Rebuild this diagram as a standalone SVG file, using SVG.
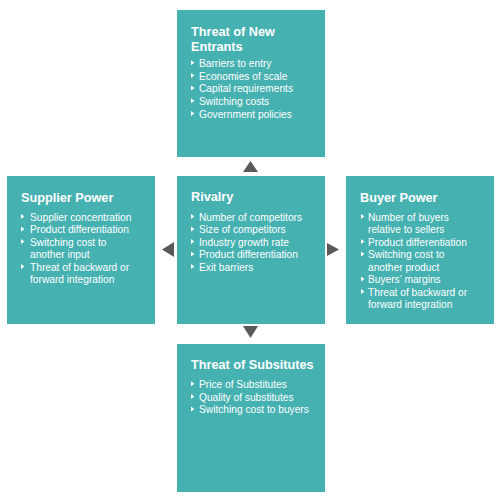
<svg xmlns="http://www.w3.org/2000/svg" width="503" height="497" viewBox="0 0 503 497">
<style>
.box{fill:#46B1B1;}
.title{font-family:"Liberation Sans",Arial,sans-serif;font-weight:bold;font-size:12.7px;fill:#FFFFFF;}
.item{font-family:"Liberation Sans",Arial,sans-serif;font-size:10.2px;fill:#FFFFFF;}
.bul{fill:#FFFFFF;}
.arrow{fill:#595959;}
</style>
<defs>
<path id="b" class="bul" d="M0,-6.8 L3.4,-4.3 L0,-1.8 Z"/>
</defs>
<rect width="503" height="497" fill="#FFFFFF"/>
<g id="connectors">
<polygon class="arrow" points="243,172 258,172 250.5,161"/>
<polygon class="arrow" points="243,326 258,326 250.5,338"/>
<polygon class="arrow" points="174,242 174,257 162,249.5"/>
<polygon class="arrow" points="327,243 327,256 339,249.5"/>
</g>
<g id="threat-new-entrants">
<rect class="box" x="177" y="10" width="148" height="147"/>
<text class="title" x="191" y="36">Threat of New</text>
<text class="title" x="191" y="50.5">Entrants</text>
<use href="#b" x="191" y="67"/><text class="item" x="199" y="67">Barriers to entry</text>
<use href="#b" x="191" y="79.7"/><text class="item" x="199" y="79.7">Economies of scale</text>
<use href="#b" x="191" y="92.4"/><text class="item" x="199" y="92.4">Capital requirements</text>
<use href="#b" x="191" y="105.1"/><text class="item" x="199" y="105.1">Switching costs</text>
<use href="#b" x="191" y="117.8"/><text class="item" x="199" y="117.8">Government policies</text>
</g>
<g id="supplier-power">
<rect class="box" x="7" y="176" width="148" height="148"/>
<text class="title" x="21" y="202">Supplier Power</text>
<use href="#b" x="21" y="220.7"/><text class="item" x="30" y="220.7">Supplier concentration</text>
<use href="#b" x="21" y="233.2"/><text class="item" x="30" y="233.2">Product differentiation</text>
<use href="#b" x="21" y="245.7"/><text class="item" x="30" y="245.7">Switching cost to</text>
<text class="item" x="30" y="258.2">another input</text>
<use href="#b" x="21" y="270.7"/><text class="item" x="30" y="270.7">Threat of backward or</text>
<text class="item" x="30" y="283.2">forward integration</text>
</g>
<g id="rivalry">
<rect class="box" x="177" y="176" width="148" height="148"/>
<text class="title" x="191" y="201">Rivalry</text>
<use href="#b" x="191" y="220.7"/><text class="item" x="199" y="220.7">Number of competitors</text>
<use href="#b" x="191" y="233.2"/><text class="item" x="199" y="233.2">Size of competitors</text>
<use href="#b" x="191" y="245.7"/><text class="item" x="199" y="245.7">Industry growth rate</text>
<use href="#b" x="191" y="258.2"/><text class="item" x="199" y="258.2">Product differentiation</text>
<use href="#b" x="191" y="270.7"/><text class="item" x="199" y="270.7">Exit barriers</text>
</g>
<g id="buyer-power">
<rect class="box" x="346" y="176" width="148" height="148"/>
<text class="title" x="360" y="202">Buyer Power</text>
<use href="#b" x="361" y="220.7"/><text class="item" x="368" y="220.7">Number of buyers</text>
<text class="item" x="368" y="233.2">relative to sellers</text>
<use href="#b" x="361" y="245.7"/><text class="item" x="368" y="245.7">Product differentiation</text>
<use href="#b" x="361" y="258.2"/><text class="item" x="368" y="258.2">Switching cost to</text>
<text class="item" x="368" y="270.7">another product</text>
<use href="#b" x="361" y="283.2"/><text class="item" x="368" y="283.2">Buyers’ margins</text>
<use href="#b" x="361" y="295.7"/><text class="item" x="368" y="295.7">Threat of backward or</text>
<text class="item" x="368" y="308.2">forward integration</text>
</g>
<g id="threat-substitutes">
<rect class="box" x="177" y="344" width="148" height="148"/>
<text class="title" x="191" y="369">Threat of Subsitutes</text>
<use href="#b" x="191" y="388"/><text class="item" x="199" y="388">Price of Substitutes</text>
<use href="#b" x="191" y="400.7"/><text class="item" x="199" y="400.7">Quality of substitutes</text>
<use href="#b" x="191" y="413.4"/><text class="item" x="199" y="413.4">Switching cost to buyers</text>
</g>
</svg>
